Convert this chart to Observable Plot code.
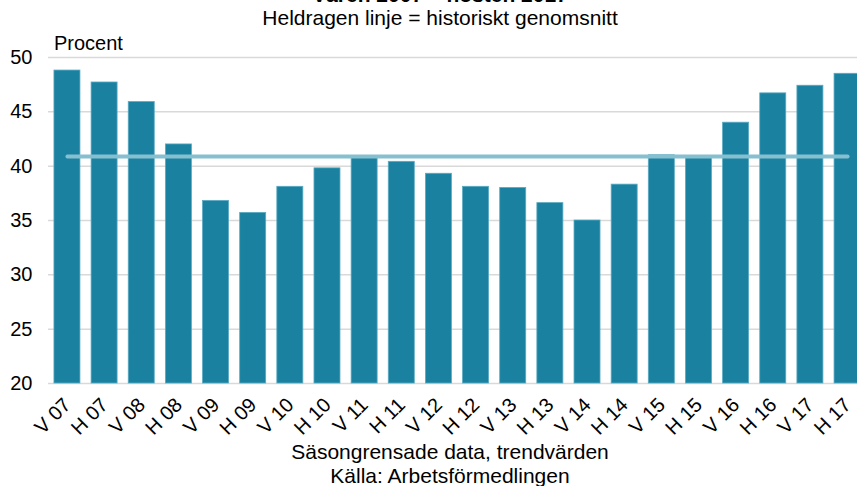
<!DOCTYPE html>
<html>
<head>
<meta charset="utf-8">
<script src="https://cdn.jsdelivr.net/npm/d3@7"></script>
<script src="https://cdn.jsdelivr.net/npm/@observablehq/plot@0.6"></script>
<style>
  html, body { margin: 0; padding: 0; background: #fff; }
  #wrap { position: relative; width: 857px; height: 486px; overflow: hidden; font-family: "Liberation Sans", Arial, sans-serif; color: #000; }
  #wrap svg { position: absolute; left: 0; top: 0; max-width: none !important; width: 866px !important; height: 486px !important; }
  .txt { position: absolute; white-space: nowrap; line-height: 1; }
</style>
</head>
<body>
<div id="wrap">
  <div class="txt" id="title" style="left:0; width:880px; text-align:center; top:-16px; font-size:21px; font-weight:bold;">Våren 2007 – hösten 2017</div>
  <div class="txt" style="left:0; width:880px; text-align:center; top:7px; font-size:21px;">Heldragen linje = historiskt genomsnitt</div>
  <div class="txt" style="left:54px; top:33px; font-size:20px;">Procent</div>
  <div class="txt" style="left:0; width:900px; text-align:center; top:441px; font-size:21px;">Säsongrensade data, trendvärden</div>
  <div class="txt" style="left:0; width:900px; text-align:center; top:465px; font-size:21px;">Källa: Arbetsförmedlingen</div>
</div>
<script>
const categories = ["V 07","H 07","V 08","H 08","V 09","H 09","V 10","H 10","V 11","H 11","V 12","H 12","V 13","H 13","V 14","H 14","V 15","H 15","V 16","H 16","V 17","H 17"];
const values = [48.8, 47.7, 45.9, 42.0, 36.8, 35.7, 38.1, 39.8, 40.9, 40.4, 39.3, 38.1, 38.0, 36.6, 35.0, 38.3, 41.0, 40.9, 44.0, 46.7, 47.4, 48.5];
const historicalAverage = 40.9;
const yTicks = [20, 25, 30, 35, 40, 45, 50];

const data = categories.map((c, i) => ({cat: c, value: values[i], avg: historicalAverage}));

const chart = Plot.plot({
  width: 866,
  height: 486,
  marginTop: 57,
  marginBottom: 103,
  marginLeft: 48,
  marginRight: 0,
  style: {fontFamily: '"Liberation Sans", Arial, sans-serif', fontSize: "20px", color: "#000", background: "transparent"},
  x: {domain: categories, paddingInner: 0.3, paddingOuter: 0.16, round: false, label: null},
  y: {domain: [20, 50], label: null},
  marks: [
    Plot.gridY(yTicks, {stroke: "#d9d9d9", strokeOpacity: 1, strokeWidth: 1.5}),
    Plot.barY(data, {x: "cat", y1: 20, y2: "value", fill: "#1a82a0", stroke: "#5aaac2", strokeWidth: 0.8}),
    Plot.line(data, {x: "cat", y: "avg", stroke: "#86bfcf", strokeWidth: 4, strokeLinecap: "round"}),
    Plot.axisY(yTicks, {tickSize: 0, tickPadding: 16, fontSize: 20, label: null}),
    Plot.axisX({tickRotate: -45, tickSize: 0, tickPadding: 18, fontSize: 20, label: null})
  ]
});
document.getElementById("wrap").appendChild(chart);
</script>
</body>
</html>
